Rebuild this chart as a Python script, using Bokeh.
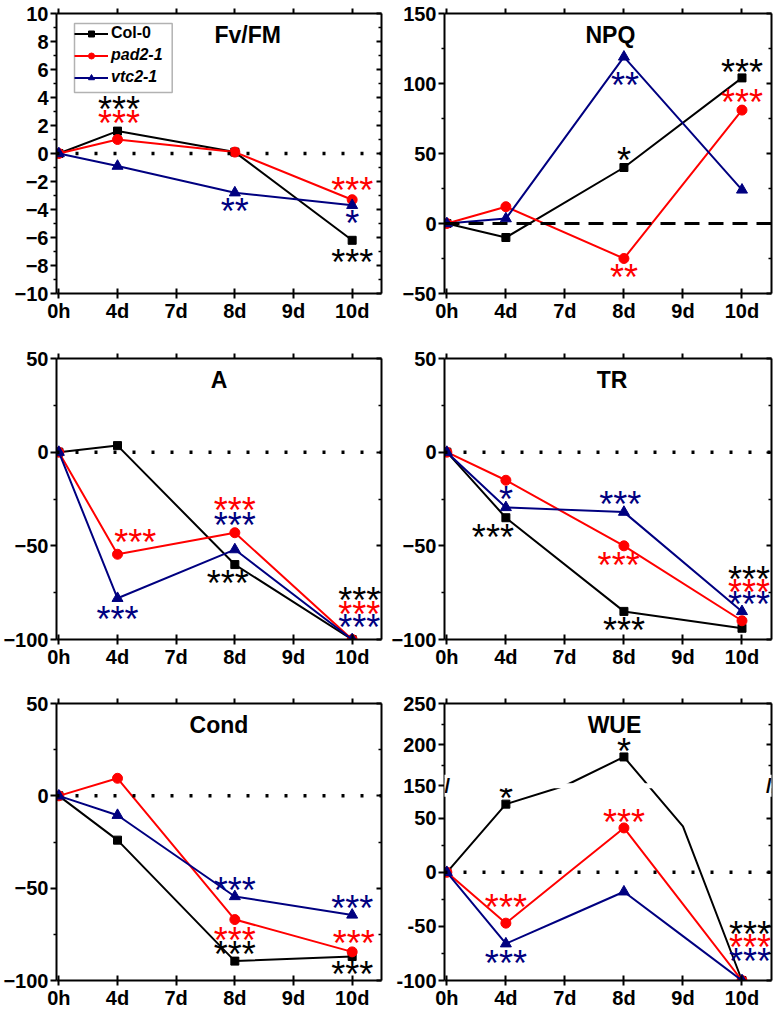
import numpy as np
from bokeh.plotting import figure
from bokeh.layouts import gridplot
from bokeh.models import (FixedTicker, LinearAxis, Range1d, Span, Label, Legend,
                          LegendItem, ColumnDataSource, BoxAnnotation, CustomJSTickFormatter)
from bokeh.core.properties import value
from bokeh.embed import file_html
from bokeh.resources import INLINE

# ---------------- data ----------------
x_labels = ["0h", "4d", "7d", "8d", "9d", "10d"]
days = ["0h", "4d", "8d", "10d"]
series_names = ["Col-0", "pad2-1", "vtc2-1"]

fvfm_col0 = [0, 1.6, 0.1, -6.2]
fvfm_pad2 = [0, 1.0, 0.1, -3.3]
fvfm_vtc2 = [0, -0.9, -2.8, -3.7]

npq_col0 = [0, -10, 40, 104]
npq_pad2 = [0, 12, -25, 81]
npq_vtc2 = [0, 3.5, 119, 24]

a_col0 = [0, 3.5, -60, -100]
a_pad2 = [0, -54.5, -43, -100]
a_vtc2 = [0, -78, -52, -100]

tr_col0 = [0, -35, -85, -94]
tr_pad2 = [0, -15, -50, -90]
tr_vtc2 = [0, -29.5, -32, -85]

cond_col0 = [0, -24, -89.5, -87]
cond_pad2 = [0, 9.5, -67, -84.5]
cond_vtc2 = [0, -10.5, -54.5, -64.5]

wue_col0 = [0, 63, 185, -100]
wue_pad2 = [0, -47, 41, -100]
wue_vtc2 = [0, -66, -18, -100]

# significance marks: (series, day, stars)
fvfm_sig = [("Col-0", "4d", "***"), ("pad2-1", "4d", "***"), ("vtc2-1", "8d", "**"),
            ("pad2-1", "10d", "***"), ("vtc2-1", "10d", "*"), ("Col-0", "10d", "***")]
npq_sig = [("Col-0", "8d", "*"), ("vtc2-1", "8d", "**"), ("pad2-1", "8d", "**"),
           ("Col-0", "10d", "***"), ("pad2-1", "10d", "***")]
a_sig = [("pad2-1", "4d", "***"), ("vtc2-1", "4d", "***"), ("pad2-1", "8d", "***"),
         ("vtc2-1", "8d", "***"), ("Col-0", "8d", "***"), ("Col-0", "10d", "***"),
         ("pad2-1", "10d", "***"), ("vtc2-1", "10d", "***")]
tr_sig = [("vtc2-1", "4d", "*"), ("Col-0", "4d", "***"), ("vtc2-1", "8d", "***"),
          ("pad2-1", "8d", "***"), ("Col-0", "8d", "***"), ("Col-0", "10d", "***"),
          ("pad2-1", "10d", "***"), ("vtc2-1", "10d", "***")]
cond_sig = [("vtc2-1", "8d", "***"), ("pad2-1", "8d", "***"), ("Col-0", "8d", "***"),
            ("vtc2-1", "10d", "***"), ("pad2-1", "10d", "***"), ("Col-0", "10d", "***")]
wue_sig = [("Col-0", "4d", "*"), ("Col-0", "8d", "*"), ("pad2-1", "8d", "***"),
           ("pad2-1", "4d", "***"), ("vtc2-1", "4d", "***"), ("Col-0", "10d", "***"),
           ("pad2-1", "10d", "***"), ("vtc2-1", "10d", "***")]

# ---------------- style (pixel offsets of star labels) ----------------
fvfm_off = [(1.5, -27.7), (1.5, -22), (0, 12.5), (0, -15), (0, 12), (0, 16)]
npq_off = [(0, -12.7), (1, 23), (0, 13), (0, -11.7), (0, -13.3)]
a_off = [(17.7, -18), (0, 15), (0, -28.4), (0, -30), (-7, 13.3), (7, -45), (7, -31), (7, -18)]
tr_off = [(0, -14), (-13, 13.4), (-3.7, -13.7), (-5.3, 13.3), (0, 13.3), (7, -55), (7, -34.3), (7, -13.4)]
cond_off = [(0, -11.6), (0, 15), (0, -12.3), (0, -12.3), (1.7, -14), (0, 12.4)]
wue_off = [(0, -11.6), (0, -11), (0, -11.3), (0, -21.7), (0, 13.3), (8, -52), (8, -38.7), (8, -25.4)]

COLORS = {"Col-0": "#000000", "pad2-1": "#FF0000", "vtc2-1": "#000080"}
MARKERS = {"Col-0": ("square", 8), "pad2-1": ("circle", 10), "vtc2-1": ("triangle", 11)}
FONT = "Liberation Sans"
STAR_FS = 36
STAR_SHIFT = 6  # baseline -> visual centre of an asterisk (px)

X0, X1 = -0.04, 5.5

# broken WUE axis
BREAK_LO, BREAK_HI, UPPER_K = 80.0, 150.0, 0.76


def wue_t(v):
    v = np.asarray(v, dtype=float)
    return np.where(v <= BREAK_LO, v,
                    np.where(v >= BREAK_HI, BREAK_LO + (v - BREAK_HI) * UPPER_K, BREAK_LO))


def xpos(day):
    return x_labels.index(day)


BLANK = CustomJSTickFormatter(code="return '';")


def make_fig(width, height, left, right, top, bottom, yr, major, minor, labels=None):
    p = figure(width=width, height=height, x_range=Range1d(X0, X1), y_range=Range1d(*yr),
               output_backend="svg", toolbar_location=None,
               min_border_left=left, min_border_right=right,
               min_border_top=top, min_border_bottom=bottom)
    p.xgrid.visible = False
    p.ygrid.visible = False
    p.outline_line_color = None
    p.background_fill_color = "white"
    xt = FixedTicker(ticks=list(range(len(x_labels))))
    yt = FixedTicker(ticks=major, minor_ticks=minor)
    xax = p.xaxis[0]
    xax.ticker = xt
    xax.major_label_overrides = {i: s for i, s in enumerate(x_labels)}
    xax.major_tick_in = 5
    xax.major_tick_out = 5
    xax.minor_tick_line_color = None
    xax.major_label_standoff = 1
    yax = p.yaxis[0]
    yax.ticker = yt
    if labels is not None:
        yax.major_label_overrides = labels
    yax.major_tick_in = 0
    yax.major_tick_out = 6
    yax.minor_tick_in = 0
    yax.minor_tick_out = 3
    yax.major_label_standoff = 2
    for ax in (xax, yax):
        ax.axis_line_width = 2
        ax.major_tick_line_width = 2
        ax.minor_tick_line_width = 1.5
        ax.major_label_text_font = FONT
        ax.major_label_text_font_style = "bold"
        ax.major_label_text_font_size = "20px"
        ax.major_label_text_color = "black"
    top_ax = LinearAxis(ticker=FixedTicker(ticks=list(range(len(x_labels)))),
                        formatter=BLANK, major_label_standoff=0,
                        major_tick_in=0, major_tick_out=5, minor_tick_line_color=None,
                        axis_line_width=2, major_tick_line_width=2)
    right_ax = LinearAxis(ticker=FixedTicker(ticks=major, minor_ticks=minor),
                          formatter=BLANK, major_label_standoff=0,
                          major_tick_in=5, major_tick_out=0, minor_tick_in=3, minor_tick_out=0,
                          axis_line_width=2, major_tick_line_width=2, minor_tick_line_width=1.5)
    p.add_layout(top_ax, "above")
    p.add_layout(right_ax, "right")
    return p


def draw_panel(p, title, title_x, series, sig, off, zero_dash="3 16", zero_width=3.5,
               transform=None, path_interp=False):
    p.add_layout(Span(location=0, dimension="width", line_color="black",
                      line_width=zero_width, line_dash=zero_dash))
    rends = {}
    xs = [xpos(d) for d in days]
    vals_t = {}
    for name, vals in zip(series_names, series):
        c = COLORS[name]
        yv = list(transform(vals)) if transform is not None else list(vals)
        vals_t[name] = yv
        if path_interp:
            # broken-axis rendering: path vertices at every category position
            full_x = list(range(len(x_labels)))
            lx, ly = full_x, list(transform(np.interp(full_x, xs, vals)))
        else:
            lx, ly = xs, yv
        lr = p.line(lx, ly, line_color=c, line_width=2)
        mk, sz = MARKERS[name]
        sr = p.scatter(xs, yv, marker=mk, size=sz, fill_color=c, line_color=c)
        rends[name] = (lr, sr)
    sx, sy, st, sc, sdx, sdy = [], [], [], [], [], []
    for (name, day, stars), (dx, dy) in zip(sig, off):
        i = days.index(day)
        sx.append(xpos(day))
        sy.append(vals_t[name][i])
        st.append(stars)
        sc.append(COLORS[name])
        sdx.append(dx)
        sdy.append(dy + STAR_SHIFT)
    src = ColumnDataSource(dict(x=sx, y=sy, text=st, color=sc, dx=sdx, dy=sdy))
    p.text(x="x", y="y", text="text", text_color="color", x_offset="dx", y_offset="dy",
           source=src, text_font=value(FONT), text_font_size=f"{STAR_FS}px",
           text_align="center", text_baseline="alphabetic")
    p.add_layout(Label(x=title_x, y=p.y_range.end, text=title, text_font=FONT,
                       text_font_size="23px", text_font_style="bold", text_align="center",
                       text_baseline="middle", y_offset=-21, text_color="black"))
    return rends


# column / row geometry (page has no margin)
C1 = dict(width=388, left=56, right=7)
C2 = dict(width=389, left=56, right=6)
R1 = dict(height=338, top=13, bottom=45)
R2 = dict(height=343, top=20, bottom=42)
R3 = dict(height=330, top=22, bottom=29)

p1 = make_fig(C1["width"], R1["height"], C1["left"], C1["right"], R1["top"], R1["bottom"],
              (-10, 10), list(range(-10, 11, 2)), list(range(-9, 10, 2)))
r1 = draw_panel(p1, "Fv/FM", 3.22, (fvfm_col0, fvfm_pad2, fvfm_vtc2), fvfm_sig, fvfm_off)

p2 = make_fig(C2["width"], R1["height"], C2["left"], C2["right"], R1["top"], R1["bottom"],
              (-50, 150), [-50, 0, 50, 100, 150], [-25, 25, 75, 125])
draw_panel(p2, "NPQ", 2.77, (npq_col0, npq_pad2, npq_vtc2), npq_sig, npq_off,
           zero_dash="15 9", zero_width=3)

p3 = make_fig(C1["width"], R2["height"], C1["left"], C1["right"], R2["top"], R2["bottom"],
              (-100, 50), [-100, -50, 0, 50], [-75, -25, 25])
draw_panel(p3, "A", 2.73, (a_col0, a_pad2, a_vtc2), a_sig, a_off)

p4 = make_fig(C2["width"], R2["height"], C2["left"], C2["right"], R2["top"], R2["bottom"],
              (-100, 50), [-100, -50, 0, 50], [-75, -25, 25])
draw_panel(p4, "TR", 2.80, (tr_col0, tr_pad2, tr_vtc2), tr_sig, tr_off)

p5 = make_fig(C1["width"], R3["height"], C1["left"], C1["right"], R3["top"], R3["bottom"],
              (-100, 50), [-100, -50, 0, 50], [-75, -25, 25])
draw_panel(p5, "Cond", 2.73, (cond_col0, cond_pad2, cond_vtc2), cond_sig, cond_off)

wue_major_vals = [-100, -50, 0, 50, 150, 200, 250]
wue_minor_vals = [-75, -25, 25, 175, 225]
wue_major = [round(float(wue_t(v)), 6) for v in wue_major_vals]
wue_minor = [round(float(wue_t(v)), 6) for v in wue_minor_vals]
wue_labels = {t: str(v) for t, v in zip(wue_major, wue_major_vals)}
p6 = make_fig(C2["width"], R3["height"], C2["left"], C2["right"], R3["top"], R3["bottom"],
              (-100, wue_major[-1]), wue_major, wue_minor, labels=wue_labels)
draw_panel(p6, "WUE", 2.84, (wue_col0, wue_pad2, wue_vtc2), wue_sig, wue_off,
           transform=wue_t, path_interp=True)
# axis break
p6.add_layout(Span(location=BREAK_LO, dimension="width", line_color="white", line_width=5))
for bx in (X0, X1):
    p6.add_layout(Label(x=bx, y=BREAK_LO, text="//", text_font=FONT, text_font_size="20px",
                        text_font_style="bold", text_align="center", text_baseline="middle",
                        text_color="black", background_fill_color="white"))

# legend (two blocks so that only the mutant names are italic) + frame box
frame_w = C1["width"] - C1["left"] - C1["right"]
frame_h = R1["height"] - R1["top"] - R1["bottom"]
ppx = frame_w / (X1 - X0)
ppy = frame_h / 20.0
leg_common = dict(border_line_color=None, background_fill_alpha=0, padding=0, margin=0,
                  spacing=2, glyph_width=34, glyph_height=15, label_height=20,
                  label_standoff=3, label_text_font=FONT, label_text_font_size="16px",
                  label_text_color="black")
leg1 = Legend(items=[LegendItem(label="Col-0", renderers=list(r1["Col-0"]))],
              location=(18, frame_h - 30), label_text_font_style="bold", **leg_common)
leg2 = Legend(items=[LegendItem(label="pad2-1", renderers=list(r1["pad2-1"])),
                     LegendItem(label="vtc2-1", renderers=list(r1["vtc2-1"]))],
              location=(18, frame_h - 74), label_text_font_style="bold italic", **leg_common)
p1.add_layout(leg1)
p1.add_layout(leg2)
p1.add_layout(BoxAnnotation(left=X0 + 18 / ppx, right=X0 + 115.7 / ppx,
                            top=10 - 10 / ppy, bottom=10 - 79 / ppy,
                            fill_alpha=0, line_color="black", line_width=1.5))

grid = gridplot([[p1, p2], [p3, p4], [p5, p6]], toolbar_location=None)
open("out.html", "w").write(file_html(grid, INLINE))
